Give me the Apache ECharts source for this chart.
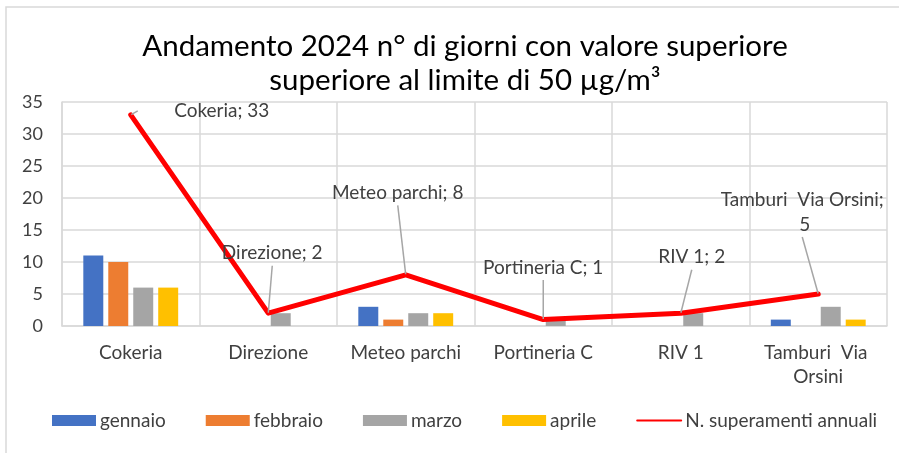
<!DOCTYPE html>
<html><head><meta charset="utf-8">
<script src="https://cdn.jsdelivr.net/npm/echarts@6/dist/echarts.min.js"></script>
<style>html,body{margin:0;padding:0;background:#fff}#c{width:899px;height:453px}</style>
</head><body><div id="c"></div>
<script>
const categories = ['Cokeria', 'Direzione', 'Meteo parchi', 'Portineria C', 'RIV 1', 'Tamburi  Via Orsini'];
const gennaio = [11, 0, 3, 0, 0, 1];
const febbraio = [10, 0, 1, 0, 0, 0];
const marzo = [6, 2, 2, 1, 2, 3];
const aprile = [6, 0, 2, 0, 0, 1];
const annuali = [33, 2, 8, 1, 2, 5];
const yTicks = [0, 5, 10, 15, 20, 25, 30, 35];

const FONT = 'Lato';
const TXT = '#404040';
const labelOffsets = [[91, -4], [4, -60], [-8, -82], [0, -52], [11, -56], [-16, -82]];

const chart = echarts.init(document.getElementById('c'));
const barSeries = (name, data, color) => ({
  name, type: 'bar', data, barGap: '25%', barCategoryGap: '31%',
  itemStyle: { color }, z: 2
});
chart.setOption({
  animation: false,
  textStyle: { fontFamily: FONT },
  graphic: [{
    type: 'rect', shape: { x: 6, y: 7, width: 960, height: 500 },
    style: { fill: 'none', stroke: '#d9d9d9', lineWidth: 1.5 }, silent: true
  }],
  title: {
    text: 'Andamento 2024 n° di giorni con valore superiore\nsuperiore al limite di 50 µg/m³',
    left: 460, textAlign: 'center', top: 24,
    textStyle: { fontFamily: FONT, fontSize: 29.5, fontWeight: 'normal', color: '#000', lineHeight: 34 }
  },
  grid: { left: 62, right: 12, top: 102, bottom: 127 },
  legend: {
    top: 406, left: 47, itemWidth: 44, itemHeight: 11, itemGap: 40,
    textStyle: { fontFamily: FONT, fontSize: 19, color: TXT, padding: [0, 0, 0, -1] },
    data: [
      { name: 'gennaio', icon: 'rect' }, { name: 'febbraio', icon: 'rect' },
      { name: 'marzo', icon: 'rect' }, { name: 'aprile', icon: 'rect' },
      { name: 'N. superamenti annuali', itemStyle: { opacity: 0 } }
    ]
  },
  xAxis: {
    type: 'category', data: categories,
    axisLine: { lineStyle: { color: '#d9d9d9', width: 1.5 } },
    axisTick: { show: false },
    splitLine: { show: true, lineStyle: { color: '#d9d9d9', width: 1.5 } },
    axisLabel: { fontFamily: FONT, fontSize: 19, color: TXT, margin: 15, width: 125, overflow: 'break', lineHeight: 24, interval: 0 }
  },
  yAxis: {
    type: 'value', min: yTicks[0], max: yTicks[yTicks.length - 1], interval: 5,
    axisLine: { show: true, lineStyle: { color: '#d9d9d9', width: 1.5 } },
    splitLine: { lineStyle: { color: '#d9d9d9', width: 1.5 } },
    axisLabel: { fontFamily: FONT, fontSize: 18, color: TXT, margin: 19 }
  },
  series: [
    barSeries('gennaio', gennaio, '#4472c4'),
    barSeries('febbraio', febbraio, '#ed7d31'),
    barSeries('marzo', marzo, '#a5a5a5'),
    barSeries('aprile', aprile, '#ffc000'),
    {
      name: 'N. superamenti annuali', type: 'line', data: annuali,
      showSymbol: true, symbol: 'circle', symbolSize: 1, z: 5,
      lineStyle: { color: '#ff0000', width: 5, cap: 'round', join: 'round' },
      itemStyle: { color: '#ff0000' },
      label: {
        show: true, position: 'inside', fontFamily: FONT, fontSize: 19, color: TXT,
        width: 168, overflow: 'break', lineHeight: 25,
        formatter: p => p.name + '; ' + p.value
      },
      labelLine: { show: true, lineStyle: { color: '#a6a6a6', width: 1.5 } },
      labelLayout: p => ({ dx: labelOffsets[p.dataIndex][0], dy: labelOffsets[p.dataIndex][1] })
    }
  ]
});
</script></body></html>
